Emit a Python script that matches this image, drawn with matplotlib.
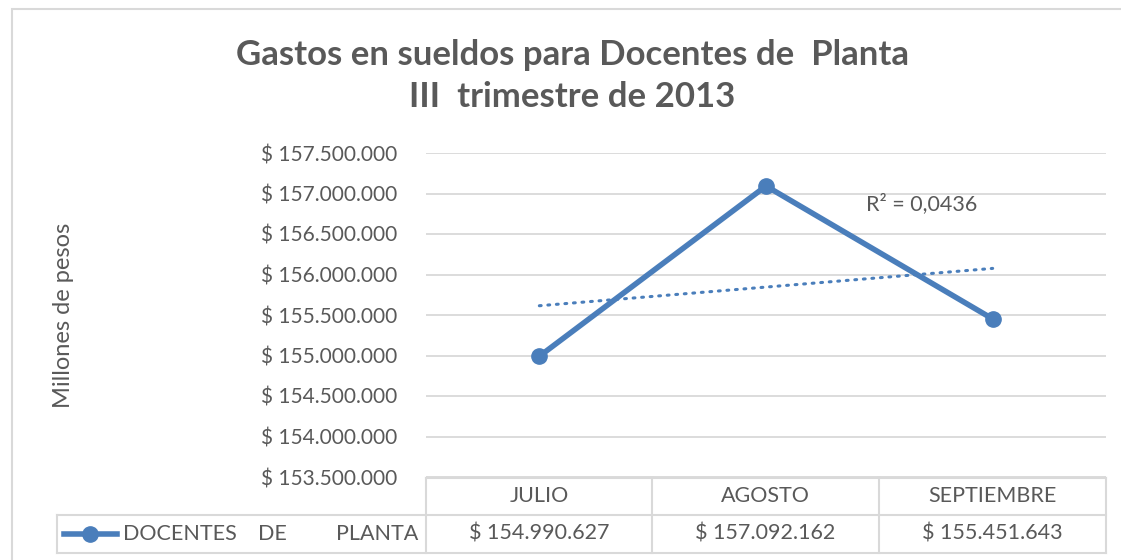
import numpy as np
import matplotlib
matplotlib.use("Agg")
import matplotlib.pyplot as plt
from matplotlib.lines import Line2D
from matplotlib.patches import Rectangle

plt.rcParams['font.family'] = ['Lato', 'DejaVu Sans']

# data
meses = ["JULIO", "AGOSTO", "SEPTIEMBRE"]
valores = [154990627, 157092162, 155451643]
serie = "DOCENTES DE PLANTA"
titulo = "Gastos en sueldos para Docentes de  Planta\nIII  trimestre de 2013"
ylabel = "Millones de pesos"
yticks = [153500000, 154000000, 154500000, 155000000, 155500000,
          156000000, 156500000, 157000000, 157500000]

azul = "#4A7EBB"
gris = "#595959"
borde = "#D9D9D9"

def pesos(v):
    return "$ " + f"{int(v):,}".replace(",", ".")

W, H = 1121, 560
fig = plt.figure(figsize=(W / 100, H / 100), dpi=100)

# chart border
fig.patches.append(Rectangle((12 / W, -0.01), 1.2, 1 - 9 / H + 0.01,
                             transform=fig.transFigure, fill=False,
                             edgecolor=borde, linewidth=1.5))

# plot area in pixels
L, R, T, B = 426, 1106, 153, 477
ax = fig.add_axes([L / W, 1 - B / H, (R - L) / W, (B - T) / H])

x = np.arange(1, len(valores) + 1)
ax.plot(x, valores, color=azul, linewidth=4, marker="o", markersize=11,
        solid_capstyle="round", zorder=3)

# linear trend line
p = np.polyfit(x, valores, 1)
fit = np.polyval(p, x)
r2 = 1 - np.sum((np.array(valores) - fit) ** 2) / np.sum((np.array(valores) - np.mean(valores)) ** 2)
ax.plot(x, fit, color=azul, linewidth=2.2, linestyle=(0, (0.6, 2.2)),
        dash_capstyle="round", zorder=2)
ax.text(2.44, 156880000, "R² = " + f"{r2:.4f}".replace(".", ","), ha="left",
        va="center", fontsize=15.5, color=gris)

ax.set_xlim(0.5, 3.5)
ax.set_ylim(yticks[0], yticks[-1])
ax.set_yticks(yticks)
ax.set_yticklabels([pesos(v) for v in yticks], fontsize=15, color=gris)
ax.set_xticks([])
ax.tick_params(axis="y", length=0, pad=21)
ax.grid(axis="y", color=borde, linewidth=1.3)
ax.set_axisbelow(True)
for s in ax.spines.values():
    s.set_visible(False)

fig.text(63 / W, 1 - 315 / H, ylabel, rotation=90, ha="center", va="center",
         fontsize=17, color=gris)
fig.text(572 / W, 1 - 76 / H, titulo, ha="center", va="center",
         fontsize=25, fontweight="bold", color=gris, linespacing=1.38)

# data table
def fx(px):
    return px / W

def fy(py):
    return 1 - py / H

cols = [426, 652, 879, 1106]
r0, r1, r2b = 478, 515, 553
tl = dict(color=borde, linewidth=1.5, transform=fig.transFigure)
fig.add_artist(Line2D([fx(426), fx(1106)], [fy(r0), fy(r0)], **tl))
fig.add_artist(Line2D([fx(57), fx(1106)], [fy(r1), fy(r1)], **tl))
fig.add_artist(Line2D([fx(57), fx(1106)], [fy(r2b), fy(r2b)], **tl))
fig.add_artist(Line2D([fx(57), fx(57)], [fy(r1), fy(r2b)], **tl))
for c in cols:
    fig.add_artist(Line2D([fx(c), fx(c)], [fy(r0), fy(r2b)], **tl))

for i, (m, v) in enumerate(zip(meses, valores)):
    cx = (cols[i] + cols[i + 1]) / 2
    fig.text(fx(cx), fy((r0 + r1) / 2), m, ha="center", va="center",
             fontsize=15.5, color=gris)
    fig.text(fx(cx), fy((r1 + r2b) / 2), pesos(v), ha="center", va="center",
             fontsize=15.5, color=gris)

# legend key in the table
ym = fy((r1 + r2b) / 2)
fig.add_artist(Line2D([fx(64), fx(117)], [ym, ym], color=azul, linewidth=4,
                      marker=None, transform=fig.transFigure))
fig.add_artist(Line2D([fx(90)], [ym], color=azul, marker="o", markersize=11,
                      transform=fig.transFigure))
palabras = serie.split()
fig.text(fx(123), ym, palabras[0], ha="left", va="center", fontsize=15.5, color=gris)
fig.text(fx(272), ym, palabras[1], ha="center", va="center", fontsize=15.5, color=gris)
fig.text(fx(418), ym, palabras[2], ha="right", va="center", fontsize=15.5, color=gris)

fig.savefig("out.png", dpi=100)
